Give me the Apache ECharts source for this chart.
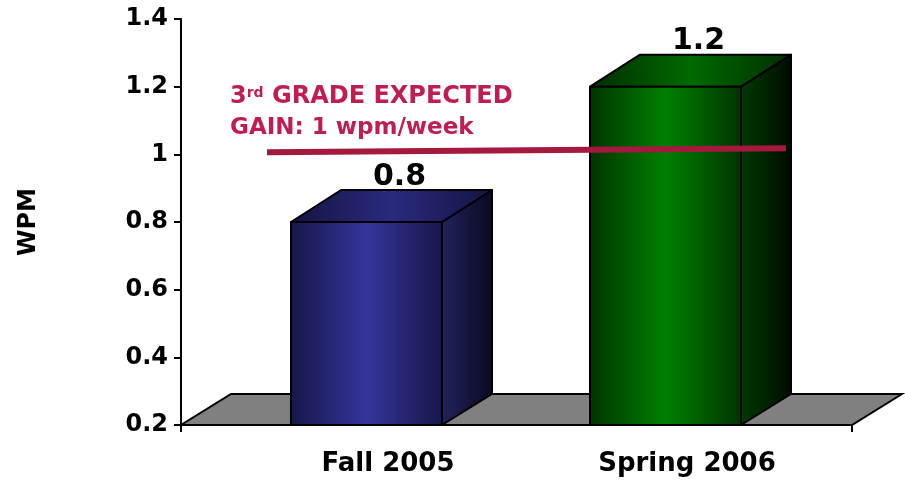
<!DOCTYPE html>
<html lang="en">
<head>
    <meta charset="UTF-8">
    <title>WPM gain</title>
    <script src="https://cdn.jsdelivr.net/npm/echarts@6/dist/echarts.min.js"></script>
    <style>
        html, body { margin: 0; padding: 0; background: #fff; }
        #main { width: 905px; height: 483px; }
    </style>
</head>
<body>
<div id="main"></div>
<script>
    // data
    const categories = ['Fall 2005', 'Spring 2006'];
    const wpmGain = [0.8, 1.2];
    const expectedGain = 1;
    const yMin = 0.2, yMax = 1.4, yStep = 0.2;
    const noteLines = ['3rd GRADE EXPECTED', 'GAIN: 1 wpm/week'];

    // 3d look
    const DX = 50, DY = -32;
    const FONT = '"DejaVu Sans", sans-serif';
    const faces = [
        { front: ['#17174a', '#34349c', '#17174a'], top: ['#141442', '#2a2a80', '#141442'], side: ['#23235f', '#09091f'] },
        { front: ['#003400', '#008000', '#003400'], top: ['#002e00', '#006a00', '#002e00'], side: ['#003a00', '#000c00'] }
    ];

    function grad(cols) {
        return {
            type: 'linear', x: 0, y: 0, x2: 1, y2: 0,
            colorStops: cols.map((c, k) => ({ offset: k / (cols.length - 1), color: c }))
        };
    }

    let mychart = echarts.init(document.getElementById('main'));

    function renderFloor(params, api) {
        const cs = params.coordSys;
        const y = api.coord([0, yMin])[1];
        const xa = cs.x, xb = cs.x + cs.width;
        return {
            type: 'polygon',
            shape: { points: [[xa, y], [xb, y], [xb + DX, y + DY + 1], [xa + DX, y + DY + 1]] },
            style: { fill: '#808080', stroke: '#000', lineWidth: 2 }
        };
    }

    function renderBar(params, api) {
        const i = params.dataIndex;
        const f = faces[i];
        const top = api.coord([api.value(0), api.value(1)]);
        const base = api.coord([api.value(0), yMin]);
        const w = api.size([1, 0])[0] * 0.505;
        const x0 = top[0] - w / 2, x1 = top[0] + w / 2;
        const yt = top[1], yb = base[1];
        const st = { stroke: '#000', lineWidth: 2, lineJoin: 'round' };
        return {
            type: 'group',
            children: [
                {
                    type: 'polygon',
                    shape: { points: [[x1, yt], [x1 + DX, yt + DY], [x1 + DX, yb + DY + 1], [x1, yb]] },
                    style: Object.assign({ fill: grad(f.side) }, st)
                },
                {
                    type: 'polygon',
                    shape: { points: [[x0, yt], [x0 + DX, yt + DY], [x1 + DX, yt + DY], [x1, yt]] },
                    style: Object.assign({ fill: grad(f.top) }, st)
                },
                {
                    type: 'rect',
                    shape: { x: x0, y: yt, width: w, height: yb - yt },
                    style: Object.assign({ fill: grad(f.front) }, st)
                },
                {
                    type: 'text',
                    style: {
                        text: String(api.value(1)),
                        x: top[0] + 33, y: yt + DY + 2,
                        align: 'center', verticalAlign: 'bottom',
                        font: 'bold 30px ' + FONT, fill: '#000'
                    }
                }
            ]
        };
    }

    function renderExpected(params, api) {
        const cs = params.coordSys;
        const y = api.coord([0, api.value(1)])[1];
        return {
            type: 'group',
            children: [
                {
                    type: 'line',
                    shape: { x1: cs.x + 86, y1: y - 2, x2: cs.x + cs.width - 66, y2: y - 6 },
                    style: { stroke: '#a6193f', lineWidth: 6 }
                },
                {
                    type: 'text',
                    style: {
                        text: '{s|' + noteLines[0].slice(0, 1) + '}{sup|' + noteLines[0].slice(1, 3) + '}{s|' +
                            noteLines[0].slice(3) + '}\n{s2|' + noteLines[1] + '}',
                        x: cs.x + 49, y: y - 11,
                        align: 'left', verticalAlign: 'bottom',
                        rich: {
                            s: { font: 'bold 24px ' + FONT, fill: '#c01e50', lineHeight: 31 },
                            s2: { font: 'bold 23px ' + FONT, fill: '#c01e50', lineHeight: 31 },
                            sup: { font: 'bold 14px ' + FONT, fill: '#c01e50', lineHeight: 31, verticalAlign: 'top', padding: [5, 0, 0, 0] }
                        }
                    }
                }
            ]
        };
    }

    let option = {
        animation: false,
        grid: [
            { left: 181, right: 53, top: 19, bottom: 58, outerBoundsMode: 'none', containLabel: false },
            { left: 217, right: 90, top: 19, bottom: 58, outerBoundsMode: 'none', containLabel: false }
        ],
        xAxis: [
            {
                gridIndex: 0, type: 'value', min: 0, max: 1, interval: 1,
                axisLine: { lineStyle: { color: '#000', width: 2 } },
                axisTick: { show: true, length: 7, lineStyle: { color: '#000', width: 2 } },
                axisLabel: { show: false }, splitLine: { show: false }
            },
            {
                gridIndex: 1, type: 'category', data: categories,
                axisLine: { show: false }, axisTick: { show: false },
                axisLabel: {
                    margin: 26, color: '#000', fontFamily: FONT, fontWeight: 'bold', fontSize: 26,
                    padding: [0, 0, 0, 43]
                }
            }
        ],
        yAxis: [
            {
                gridIndex: 0, type: 'value', min: yMin, max: yMax, interval: yStep,
                name: 'WPM', nameLocation: 'middle', nameGap: 140,
                nameTextStyle: { color: '#000', fontFamily: FONT, fontWeight: 'bold', fontSize: 24 },
                axisLine: { show: true, lineStyle: { color: '#000', width: 2 } },
                axisTick: { show: true, length: 7, lineStyle: { color: '#000', width: 2 } },
                axisLabel: { margin: 13, color: '#000', fontFamily: FONT, fontWeight: 'bold', fontSize: 24 },
                splitLine: { show: false }
            },
            {
                gridIndex: 1, type: 'value', min: yMin, max: yMax, interval: yStep, show: false
            }
        ],
        series: [
            {
                type: 'custom', xAxisIndex: 0, yAxisIndex: 0,
                data: [[0, yMin]], renderItem: renderFloor, silent: true
            },
            {
                type: 'custom', xAxisIndex: 1, yAxisIndex: 1,
                data: wpmGain.map((v, i) => [i, v]),
                encode: { x: 0, y: 1 },
                renderItem: renderBar
            },
            {
                type: 'custom', xAxisIndex: 0, yAxisIndex: 0,
                data: [[0, expectedGain]], renderItem: renderExpected, silent: true
            }
        ]
    };
    mychart.setOption(option);
</script>
</body>
</html>
